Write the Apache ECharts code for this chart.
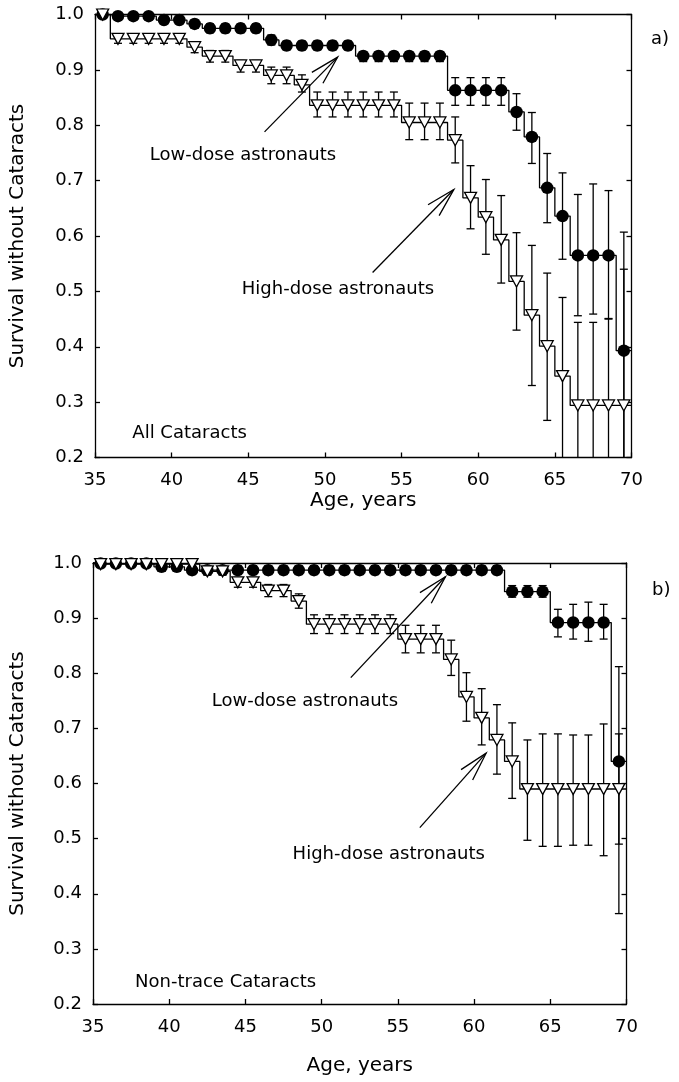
<!DOCTYPE html>
<html>
<head>
<meta charset="utf-8">
<script src="https://cdn.jsdelivr.net/npm/echarts@6/dist/echarts.min.js"></script>
<style>html,body{margin:0;padding:0;background:#fff}#c{width:679px;height:1082px}</style>
</head>
<body>
<div id="c"></div>
<script>
// ---------- data ----------
const ages = [35.5,36.5,37.5,38.5,39.5,40.5,41.5,42.5,43.5,44.5,45.5,46.5,47.5,48.5,49.5,50.5,51.5,52.5,53.5,54.5,55.5,56.5,57.5,58.5,59.5,60.5,61.5,62.5,63.5,64.5,65.5,66.5,67.5,68.5,69.5];
const curveStart = [35, 1.0];
const curveEndAge = 70;
const xRange = [35, 70], xStep = 5;
const yRange = [0.2, 1.0], yStep = 0.1;

// Panel a) All Cataracts
const aLowVal = [1.0,0.997,0.997,0.997,0.990,0.990,0.983,0.975,0.975,0.975,0.975,0.954,0.944,0.944,0.944,0.944,0.944,0.925,0.925,0.925,0.925,0.925,0.925,0.863,0.863,0.863,0.863,0.824,0.779,0.687,0.636,0.565,0.565,0.565,0.393];
const aLowLo  = [1.0,0.993,0.993,0.993,0.984,0.984,0.976,0.967,0.967,0.967,0.967,0.945,0.936,0.936,0.936,0.936,0.936,0.915,0.915,0.915,0.915,0.915,0.915,0.836,0.836,0.836,0.836,0.791,0.731,0.624,0.558,0.456,0.459,0.450,0.15];
const aLowHi  = [1.0,1.0,1.0,1.0,0.996,0.996,0.990,0.983,0.983,0.983,0.983,0.963,0.952,0.952,0.952,0.952,0.952,0.933,0.933,0.933,0.933,0.933,0.933,0.886,0.886,0.886,0.886,0.857,0.823,0.749,0.714,0.675,0.694,0.682,0.607];
const aHighVal = [1.0,0.956,0.956,0.956,0.956,0.956,0.941,0.925,0.925,0.908,0.908,0.890,0.890,0.873,0.836,0.836,0.836,0.836,0.836,0.836,0.805,0.805,0.805,0.773,0.669,0.634,0.593,0.518,0.457,0.401,0.347,0.294,0.294,0.294,0.294];
const aHighLo  = [1.0,0.948,0.948,0.948,0.948,0.948,0.931,0.914,0.914,0.896,0.896,0.875,0.875,0.860,0.815,0.815,0.815,0.815,0.815,0.815,0.774,0.774,0.774,0.732,0.613,0.567,0.515,0.430,0.330,0.267,0.15,0.15,0.15,0.15,0.15];
const aHighHi  = [1.0,0.964,0.964,0.964,0.964,0.964,0.951,0.935,0.935,0.917,0.917,0.905,0.905,0.891,0.860,0.860,0.860,0.860,0.860,0.860,0.840,0.840,0.840,0.815,0.727,0.702,0.673,0.606,0.583,0.533,0.489,0.444,0.444,0.451,0.540];

// Panel b) Non-trace Cataracts
const bLowVal = [0.999,0.999,0.999,0.999,0.993,0.993,0.987,0.987,0.987,0.987,0.987,0.987,0.987,0.987,0.987,0.987,0.987,0.987,0.987,0.987,0.987,0.987,0.987,0.987,0.987,0.987,0.987,0.948,0.948,0.948,0.892,0.892,0.892,0.892,0.640];
const bLowLo  = [0.997,0.997,0.997,0.997,0.986,0.986,0.979,0.979,0.979,0.979,0.979,0.979,0.979,0.979,0.979,0.979,0.979,0.979,0.979,0.979,0.979,0.979,0.979,0.979,0.979,0.979,0.979,0.938,0.938,0.938,0.866,0.862,0.858,0.862,0.364];
const bLowHi  = [1.0,1.0,1.0,1.0,1.0,1.0,0.995,0.995,0.995,0.995,0.995,0.995,0.995,0.995,0.995,0.995,0.995,0.995,0.995,0.995,0.995,0.995,0.995,0.995,0.995,0.995,0.995,0.959,0.959,0.959,0.916,0.925,0.929,0.925,0.812];
const bHighVal = [0.998,0.998,0.998,0.998,0.998,0.998,0.998,0.985,0.985,0.965,0.965,0.950,0.950,0.931,0.889,0.889,0.889,0.889,0.889,0.889,0.862,0.862,0.862,0.825,0.757,0.719,0.679,0.640,0.590,0.590,0.590,0.590,0.590,0.590,0.590];
const bHighLo  = [0.995,0.995,0.995,0.995,0.995,0.995,0.995,0.978,0.978,0.956,0.956,0.939,0.939,0.918,0.872,0.872,0.872,0.872,0.872,0.872,0.837,0.837,0.837,0.796,0.713,0.670,0.617,0.573,0.497,0.486,0.486,0.488,0.488,0.469,0.490];
const bHighHi  = [1.0,1.0,1.0,1.0,1.0,1.0,1.0,0.992,0.992,0.974,0.974,0.961,0.961,0.944,0.906,0.906,0.906,0.906,0.906,0.906,0.887,0.887,0.887,0.860,0.801,0.772,0.743,0.710,0.679,0.690,0.690,0.688,0.688,0.708,0.690];

// annotation anchors in data coordinates [age, survival]
const aTexts = [
  {t: 'Low-dose astronauts', at: [44.65, 0.746]},
  {t: 'High-dose astronauts', at: [50.85, 0.503]},
  {t: 'All Cataracts', at: [41.17, 0.243]}
];
const aArrows = [[46.06, 0.788, 50.83, 0.923], [53.11, 0.534, 58.41, 0.684]];
const bTexts = [
  {t: 'Low-dose astronauts', at: [48.9, 0.749]},
  {t: 'High-dose astronauts', at: [54.4, 0.471]},
  {t: 'Non-trace Cataracts', at: [43.7, 0.240]}
];
const bArrows = [[51.91, 0.792, 58.12, 0.975], [56.44, 0.520, 60.79, 0.655]];

// ---------- styles ----------
const FONT = 'DejaVu Sans';
const INK = '#000';
const LW = 1.3;

function stepData(vals) {
  const d = [curveStart.slice()];
  ages.forEach((a, i) => d.push([a, vals[i]]));
  d.push([curveEndAge, vals[vals.length - 1]]);
  return d;
}
function pts(vals) { return ages.map((a, i) => [a, vals[i]]); }
function errData(lo, hi) { return ages.map((a, i) => [a, lo[i], hi[i]]); }

function errRender(params, api) {
  const x = api.value(0), lo = api.value(1), hi = api.value(2);
  const loC = Math.max(lo, yRange[0]);
  const pH = api.coord([x, hi]);
  const pL = api.coord([x, loC]);
  const cap = 4;
  const st = {stroke: INK, lineWidth: LW};
  const ch = [
    {type: 'line', shape: {x1: pH[0], y1: pH[1], x2: pL[0], y2: pL[1]}, style: st},
    {type: 'line', shape: {x1: pH[0] - cap, y1: pH[1], x2: pH[0] + cap, y2: pH[1]}, style: st}
  ];
  if (lo >= yRange[0]) ch.push({type: 'line', shape: {x1: pL[0] - cap, y1: pL[1], x2: pL[0] + cap, y2: pL[1]}, style: st});
  return {type: 'group', children: ch};
}
function arrowRender(params, api) {
  const p1 = api.coord([api.value(0), api.value(1)]);
  const p2 = api.coord([api.value(2), api.value(3)]);
  const ang = Math.atan2(p1[1] - p2[1], p1[0] - p2[0]);
  const L = 30, h = 15 * Math.PI / 180;
  const a = [p2[0] + L * Math.cos(ang + h), p2[1] + L * Math.sin(ang + h)];
  const b = [p2[0] + L * Math.cos(ang - h), p2[1] + L * Math.sin(ang - h)];
  return {type: 'group', children: [
    {type: 'line', shape: {x1: p1[0], y1: p1[1], x2: p2[0], y2: p2[1]}, style: {stroke: INK, lineWidth: LW}},
    {type: 'polyline', shape: {points: [a, p2, b]}, style: {stroke: INK, fill: null, lineWidth: LW}}
  ]};
}
function textRenderFor(list) {
  return function (params, api) {
    const p = api.coord([api.value(0), api.value(1)]);
    return {type: 'text', x: p[0], y: p[1], style: {
      text: list[params.dataIndex].t, fontSize: 18, fontFamily: FONT, fill: INK,
      align: 'center', verticalAlign: 'middle'}};
  };
}

const grids = [
  {left: 93.3, top: 14.5, width: 538.2, height: 443},
  {left: 91.5, top: 563, width: 535, height: 441}
];
const xNameGaps = [22, 52];
const yNameGaps = [67, 65];

const xAxes = [], yAxes = [], series = [];
grids.forEach((g, gi) => {
  const common = {
    min: xRange[0], max: xRange[1], interval: xStep, gridIndex: gi, type: 'value',
    axisLine: {show: true, onZero: false, lineStyle: {color: INK, width: LW}},
    axisTick: {show: true, inside: true, length: 5, lineStyle: {color: INK, width: LW}},
    splitLine: {show: false}
  };
  xAxes.push(Object.assign({}, common, {
    position: 'bottom',
    name: 'Age, years', nameLocation: 'middle', nameGap: xNameGaps[gi],
    nameTextStyle: {fontFamily: FONT, fontSize: 20, color: INK},
    axisLabel: {show: true, margin: 14, fontFamily: FONT, fontSize: 18, color: INK}
  }));
  xAxes.push(Object.assign({}, common, {position: 'top', axisLabel: {show: false}}));
  const ycommon = {
    min: yRange[0], max: yRange[1], interval: yStep, gridIndex: gi, type: 'value',
    axisLine: {show: true, onZero: false, lineStyle: {color: INK, width: LW}},
    axisTick: {show: true, inside: true, length: 5, lineStyle: {color: INK, width: LW}},
    splitLine: {show: false}
  };
  yAxes.push(Object.assign({}, ycommon, {
    position: 'left',
    name: 'Survival without Cataracts', nameLocation: 'middle', nameGap: yNameGaps[gi],
    nameTextStyle: {fontFamily: FONT, fontSize: 20, color: INK},
    axisLabel: {show: true, margin: 11, fontFamily: FONT, fontSize: 18, color: INK,
      formatter: v => v.toFixed(1)}
  }));
  yAxes.push(Object.assign({}, ycommon, {position: 'right', axisLabel: {show: false}}));
});

const panels = [
  {low: aLowVal, lowLo: aLowLo, lowHi: aLowHi, high: aHighVal, highLo: aHighLo, highHi: aHighHi, texts: aTexts, arrows: aArrows},
  {low: bLowVal, lowLo: bLowLo, lowHi: bLowHi, high: bHighVal, highLo: bHighLo, highHi: bHighHi, texts: bTexts, arrows: bArrows}
];
panels.forEach((p, gi) => {
  const ax = {xAxisIndex: gi * 2, yAxisIndex: gi * 2};
  series.push(Object.assign({type: 'line', name: 'Low-dose', step: 'middle', data: stepData(p.low),
    showSymbol: false, symbol: 'none', lineStyle: {color: INK, width: LW}, z: 2, silent: true}, ax));
  series.push(Object.assign({type: 'line', name: 'High-dose', step: 'middle', data: stepData(p.high),
    showSymbol: false, symbol: 'none', lineStyle: {color: INK, width: LW}, z: 2, silent: true}, ax));
  series.push(Object.assign({type: 'custom', renderItem: errRender, data: errData(p.lowLo, p.lowHi),
    encode: {x: 0, y: [1, 2]}, z: 3, silent: true}, ax));
  series.push(Object.assign({type: 'custom', renderItem: errRender, data: errData(p.highLo, p.highHi),
    encode: {x: 0, y: [1, 2]}, z: 3, silent: true}, ax));
  series.push(Object.assign({type: 'scatter', data: pts(p.low), symbol: 'circle', symbolSize: 12.5,
    itemStyle: {color: INK, borderColor: INK, borderWidth: 0, opacity: 1}, z: 4, silent: true}, ax));
  series.push(Object.assign({type: 'scatter', data: pts(p.high), symbol: 'triangle', symbolRotate: 180,
    symbolSize: [12, 11], itemStyle: {color: '#fff', borderColor: INK, borderWidth: LW, opacity: 1}, z: 5, silent: true}, ax));
  series.push(Object.assign({type: 'custom', renderItem: arrowRender, data: p.arrows,
    encode: {x: [0, 2], y: [1, 3]}, z: 6, silent: true}, ax));
  series.push(Object.assign({type: 'custom', renderItem: textRenderFor(p.texts), data: p.texts.map(o => o.at),
    encode: {x: 0, y: 1}, z: 6, silent: true}, ax));
});

const chart = echarts.init(document.getElementById('c'), null, {renderer: 'canvas'});
chart.setOption({
  backgroundColor: '#fff',
  animation: false,
  grid: grids,
  xAxis: xAxes,
  yAxis: yAxes,
  series: series,
  graphic: [
    {type: 'text', left: 651, top: 30, style: {text: 'a)', fontFamily: FONT, fontSize: 18, fill: INK}},
    {type: 'text', left: 652, top: 581, style: {text: 'b)', fontFamily: FONT, fontSize: 18, fill: INK}}
  ]
});
</script>
</body>
</html>
